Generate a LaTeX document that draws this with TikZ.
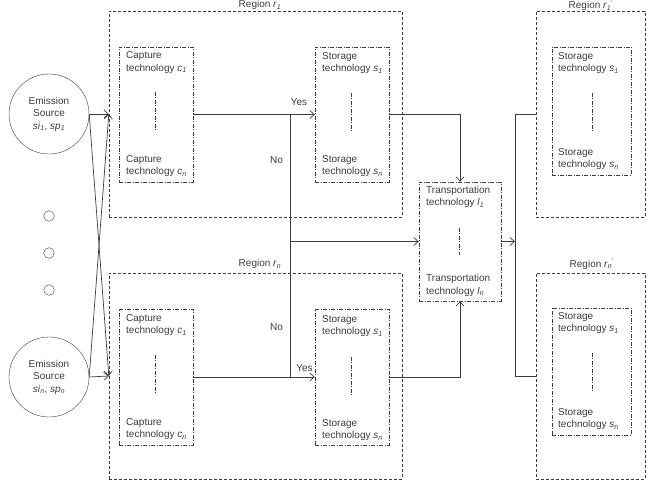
\documentclass[tikz,border=0pt]{standalone}
\usepackage{fontspec}
\setmainfont{Liberation Sans}
\usetikzlibrary{positioning, arrows.meta}

\definecolor{inkgray}{HTML}{3C3C3C}

\tikzset{
  region/.style={draw=inkgray, dash pattern=on 3pt off 2pt, inner sep=0pt,
    minimum height=206pt},
  techbox/.style={draw=inkgray, dash pattern=on 4pt off 1.5pt on 1pt off 1.5pt, inner sep=0pt},
  dotline/.style={draw=inkgray, dash pattern=on 4pt off 1.5pt on 1pt off 1.5pt},
  txt/.style={font=\fontsize{10}{12.5}\selectfont, text=inkgray, inner sep=0pt},
  lbl/.style={txt, align=left, anchor=west},
  source/.style={draw=inkgray, circle, minimum size=80pt, txt, align=center},
  ellip/.style={draw=inkgray, circle, minimum size=10.6pt, inner sep=0pt},
  link/.style={draw=inkgray, line width=0.7pt},
  >={Straight Barb[length=4.5pt, width=8pt]},
}

\newcommand{\vsub}[2]{\textit{#1}\textsubscript{\textit{#2}}}

\begin{document}
\begin{tikzpicture}[x=1pt, y=-1pt]
    \useasboundingbox (0,0) rectangle (657,481);

    % regions
    \node[region, minimum width=293pt] (reg1) at (255.5,114) {};
    \node[region, minimum width=293pt] (regn) at (255.5,376) {};
    \node[region, minimum width=109pt] (rreg1) at (590.5,114) {};
    \node[region, minimum width=109pt] (rregn) at (590.5,376) {};
    \node[txt, anchor=north] (reglbl1) at (260,0.3) {Region \vsub{r}{1}};
    \node[txt] (reglbln) at (260,264) {Region \vsub{r}{n}};
    \node[txt, anchor=north] (rreglbl1) at (591,0.3) {Region \vsub{r}{1}\textsuperscript{'}};
    \node[txt] (rreglbln) at (592,264) {Region \vsub{r}{n}\textsuperscript{'}};

    % technology boxes
    \node[techbox, minimum width=74pt, minimum height=135pt] (cap1) at (156,114.5) {};
    \node[techbox, minimum width=74pt, minimum height=135pt] (sto1) at (352,114.5) {};
    \node[techbox, minimum width=74pt, minimum height=136pt] (capn) at (156,377) {};
    \node[techbox, minimum width=74pt, minimum height=136pt] (ston) at (352,377) {};
    \node[techbox, minimum width=82pt, minimum height=119pt] (trans) at (460,241.5) {};
    \node[techbox, minimum width=79pt, minimum height=128pt] (rsto1) at (591.5,111) {};
    \node[techbox, minimum width=79pt, minimum height=127pt] (rston) at (591.5,371.5) {};

    % texts in the boxes
    \node[lbl] (cap1a) at (126,62.5) {Capture\\technology \vsub{c}{1}};
    \node[lbl] (cap1b) at (126,166) {Capture\\technology \vsub{c}{n}};
    \node[lbl] (capna) at (126,325) {Capture\\technology \vsub{c}{1}};
    \node[lbl] (capnb) at (126,429) {Capture\\technology \vsub{c}{n}};
    \node[lbl] (sto1a) at (322,63) {Storage\\technology \vsub{s}{1}};
    \node[lbl] (sto1b) at (322,166) {Storage\\technology \vsub{s}{n}};
    \node[lbl] (stona) at (322,326) {Storage\\technology \vsub{s}{1}};
    \node[lbl] (stonb) at (322,430) {Storage\\technology \vsub{s}{n}};
    \node[lbl] (transa) at (426,197) {Transportation\\technology \vsub{l}{1}};
    \node[lbl] (transb) at (426,285.5) {Transportation\\technology \vsub{l}{n}};
    \node[lbl] (rsto1a) at (558,63) {Storage\\technology \vsub{s}{1}};
    \node[lbl] (rsto1b) at (558,159) {Storage\\technology \vsub{s}{n}};
    \node[lbl] (rstona) at (558,323) {Storage\\technology \vsub{s}{1}};
    \node[lbl] (rstonb) at (558,419) {Storage\\technology \vsub{s}{n}};

    % dash-dot lines between first and last technology
    \draw[dotline] (155,92) -- (155,132);
    \draw[dotline] (351,93) -- (351,133);
    \draw[dotline] (155,355) -- (155,395);
    \draw[dotline] (351,357) -- (351,396);
    \draw[dotline] (459,228) -- (459,255);
    \draw[dotline] (592,93) -- (592,133);
    \draw[dotline] (592,353) -- (592,393);

    % emission sources
    \node[source] (src1) at (49,114) {Emission\\Source\\\vsub{si}{1}, \vsub{sp}{1}};
    \node[source] (srcn) at (49,377) {Emission\\Source\\\vsub{si}{n}, \vsub{sp}{n}};
    \node[ellip] (dot1) at (49,216) {};
    \node[ellip] (dot2) at (49,253) {};
    \node[ellip] (dot3) at (49,290) {};

    % sources to regions
    \draw[link, ->] (src1.east) -- (reg1.west);
    \draw[link, ->] (src1.east) -- (regn.west);
    \draw[link, ->] (srcn.east) -- (regn.west);
    \draw[link, ->] (srcn.east) -- (reg1.west);

    % capture to storage, or to transportation
    \coordinate (j1) at (290,114.5);
    \coordinate (jn) at (290,377);
    \coordinate (jm) at (290,241.5);
    \draw[link, ->] (cap1.east) -- (sto1.west);
    \draw[link, ->] (capn.east) -- (ston.west);
    \draw[link] (j1) -- (jn);
    \draw[link, ->] (jm) -- (trans.west);
    \node[txt] (yes1) at (299,102) {Yes};
    \node[txt] (no1) at (276.5,160) {No};
    \node[txt] (non) at (276.5,327) {No};
    \node[txt] (yesn) at (304.5,368) {Yes};

    % storage to transportation
    \draw[link, ->] (sto1.east) -| (trans.north);
    \draw[link, ->] (ston.east) -| (trans.south);

    % transportation to other regions
    \coordinate (k1) at (515,114);
    \coordinate (km) at (515,241.5);
    \coordinate (kn) at (515,376);
    \draw[link, ->] (trans.east) -- (km);
    \draw[link] (rreg1.west) -- (k1) -- (kn) -- (rregn.west);
\end{tikzpicture}
\end{document}
